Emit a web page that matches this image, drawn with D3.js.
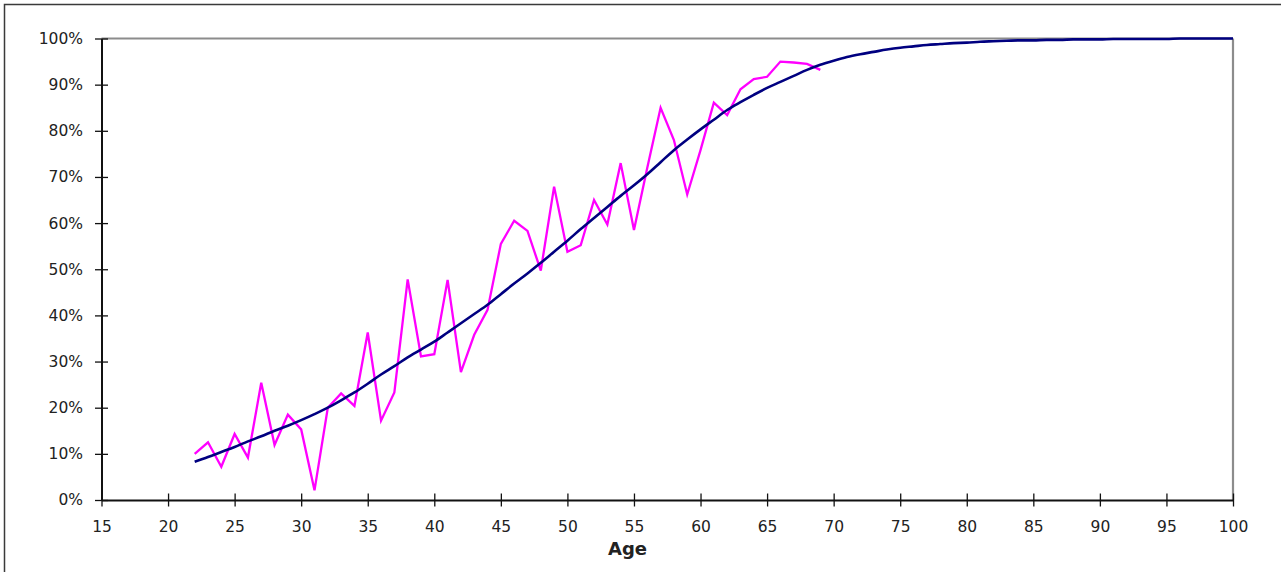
<!DOCTYPE html>
<html>
<head>
<meta charset="utf-8">
<script src="https://cdn.jsdelivr.net/npm/d3@7"></script>
<style>
  html, body { margin: 0; padding: 0; background: #fff; }
  svg { display: block; }
  text { font-family: "DejaVu Sans", Verdana, sans-serif; fill: #222; }
</style>
</head>
<body>
<svg id="chart" width="1281" height="572"></svg>
<script>
// ---- Data ----
const observedAges = [22,23,24,25,26,27,28,29,30,31,32,33,34,35,36,37,38,39,40,41,42,43,44,45,46,47,48,49,50,51,52,53,54,55,56,57,58,59,60,61,62,63,64,65,66,67,68,69];
const observedPct  = [10.0,12.5,7.2,14.3,9.2,25.4,11.9,18.5,15.3,2.1,20.0,23.1,20.4,36.3,17.2,23.3,47.8,31.1,31.6,47.7,27.7,35.8,41.2,55.5,60.5,58.3,49.7,67.9,53.8,55.2,65.0,59.7,73.0,58.5,72.0,85.0,78.0,66.2,75.8,86.1,83.4,89.0,91.2,91.7,95.0,94.8,94.5,93.2];

const fittedAges = [22,23,24,25,26,27,28,29,30,31,32,33,34,35,36,37,38,39,40,41,42,43,44,45,46,47,48,49,50,51,52,53,54,55,56,57,58,59,60,61,62,63,64,65,66,67,68,69,70,71,72,73,74,75,76,77,78,79,80,81,82,83,84,85,86,87,88,89,90,91,92,93,94,95,96,97,98,99,100];
const fittedPct  = [8.3,9.3,10.4,11.5,12.7,13.8,15.0,16.1,17.3,18.6,20.0,21.6,23.3,25.2,27.2,29.0,30.9,32.6,34.3,36.3,38.3,40.3,42.3,44.6,46.9,49.1,51.4,53.8,56.2,58.7,61.1,63.5,65.9,68.2,70.6,73.2,75.8,78.1,80.3,82.4,84.5,86.2,87.8,89.3,90.6,91.9,93.2,94.3,95.2,96.0,96.6,97.1,97.6,98.0,98.3,98.6,98.8,99.0,99.1,99.3,99.4,99.5,99.6,99.6,99.7,99.7,99.8,99.8,99.8,99.9,99.9,99.9,99.9,99.9,100,100,100,100,100];

const xTicks = [15,20,25,30,35,40,45,50,55,60,65,70,75,80,85,90,95,100];
const yTicks = [0,10,20,30,40,50,60,70,80,90,100];
const xTitle = "Age";

// ---- Layout ----
const svg = d3.select("#chart");
const x = d3.scaleLinear().domain([15, 100]).range([101.5, 1233]);
const y = d3.scaleLinear().domain([0, 100]).range([500, 38.5]);

// outer border (extends past the viewport on right/bottom)
svg.append("rect")
  .attr("x", 4.5).attr("y", 4.5).attr("width", 1300).attr("height", 600)
  .attr("fill", "none").attr("stroke", "#3a3a3a").attr("stroke-width", 1.5);

// plot frame top & right (gray)
svg.append("line").attr("x1", x(15)).attr("x2", x(100)).attr("y1", y(100)).attr("y2", y(100))
  .attr("stroke", "#8c8c8c").attr("stroke-width", 2.2);
svg.append("line").attr("x1", x(100)).attr("x2", x(100)).attr("y1", y(100)).attr("y2", y(0))
  .attr("stroke", "#8c8c8c").attr("stroke-width", 2.2);

// Y axis
const yAxis = d3.axisLeft(y).tickValues(yTicks).tickFormat(d => d + "%")
  .tickSizeInner(6.5).tickSizeOuter(0).tickPadding(12);
const gy = svg.append("g").attr("transform", `translate(${x(15)},0)`).call(yAxis);
gy.select(".domain").attr("stroke", "#111").attr("stroke-width", 2);
gy.selectAll(".tick line").attr("stroke", "#111").attr("stroke-width", 1.3)
  .attr("x1", 6.5);
gy.selectAll(".tick text").style("font-size", "15.5px").attr("fill", "#222")
  .attr("font-family", "DejaVu Sans");

// X axis
const xAxis = d3.axisBottom(x).tickValues(xTicks).tickFormat(d3.format("d"))
  .tickSizeInner(6.5).tickSizeOuter(0).tickPadding(14);
const gx = svg.append("g").attr("transform", `translate(0,${y(0)})`).call(xAxis);
gx.select(".domain").attr("stroke", "#111").attr("stroke-width", 2);
gx.selectAll(".tick line").attr("stroke", "#111").attr("stroke-width", 1.3)
  .attr("y1", -6.5);
gx.selectAll(".tick text").style("font-size", "15.5px").attr("fill", "#222")
  .attr("font-family", "DejaVu Sans");

// X title
svg.append("text").attr("x", 627.5).attr("y", 554.5).attr("text-anchor", "middle")
  .style("font-size", "18px").style("font-weight", "bold").attr("fill", "#111")
  .text(xTitle);

// Lines
const observed = observedAges.map((a, i) => [a, observedPct[i]]);
const fitted = fittedAges.map((a, i) => [a, fittedPct[i]]);

svg.append("path").datum(observed)
  .attr("fill", "none").attr("stroke", "#ff00ff").attr("stroke-width", 2.3)
  .attr("stroke-linejoin", "miter")
  .attr("d", d3.line().x(d => x(d[0])).y(d => y(d[1])));

svg.append("path").datum(fitted)
  .attr("fill", "none").attr("stroke", "#000080").attr("stroke-width", 2.6)
  .attr("d", d3.line().curve(d3.curveMonotoneX).x(d => x(d[0])).y(d => y(d[1])));
</script>
</body>
</html>
